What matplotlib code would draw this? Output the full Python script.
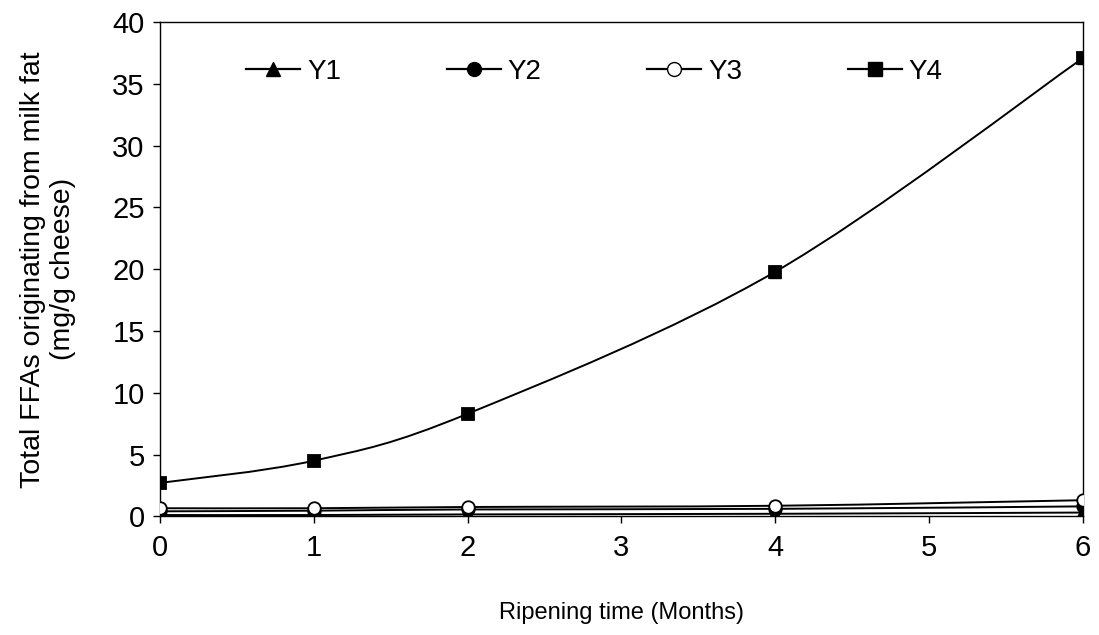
import numpy as np
import matplotlib.pyplot as plt
from matplotlib.path import Path
from matplotlib.patches import PathPatch

plt.rcParams['font.family'] = ['Liberation Sans', 'DejaVu Sans']

months = [0, 1, 2, 4, 6]
y1 = [0.1, 0.1, 0.15, 0.2, 0.3]
y2 = [0.4, 0.45, 0.55, 0.6, 0.8]
y3 = [0.65, 0.65, 0.75, 0.85, 1.3]
y4 = [2.7, 4.5, 8.3, 19.8, 37.1]
y4_err = [0.4, 0.4, 0.4, 0.5, 0.5]


def smooth_path(x, y):
    # excel-style smoothed line as bezier segments through the points
    pts = np.column_stack([x, y]).astype(float)
    verts = [pts[0]]
    codes = [Path.MOVETO]
    n = len(pts)
    for i in range(n - 1):
        p0 = pts[max(i - 1, 0)]
        p1 = pts[i]
        p2 = pts[i + 1]
        p3 = pts[min(i + 2, n - 1)]
        c1 = p1 + (p2 - p0) / 6
        c2 = p2 - (p3 - p1) / 6
        verts += [c1, c2, p2]
        codes += [Path.CURVE4] * 3
    return Path(verts, codes)


fig, ax = plt.subplots(figsize=(10.99, 6.35), dpi=100)
fig.subplots_adjust(left=0.1456, right=0.9854, top=0.965, bottom=0.187)

series = [
    ('Y1', y1, dict(marker='^', mfc='black')),
    ('Y2', y2, dict(marker='o', mfc='black')),
    ('Y3', y3, dict(marker='o', mfc='white')),
    ('Y4', y4, dict(marker='s', mfc='black')),
]
for name, vals, st in series:
    ax.add_patch(PathPatch(smooth_path(months, vals), fill=False,
                           lw=1.4, color='black', zorder=2))
    ax.plot(months, vals, ls='none', ms=9, mec='black', mew=1.3,
            zorder=3, **st)
    ax.plot([], [], color='black', lw=1.6, ms=10, mec='black',
            label=name, **st)

ax.errorbar(months, y4, yerr=y4_err, fmt='none', ecolor='black',
            capsize=4, lw=1, zorder=2)

ax.set_xlim(0, 6)
ax.set_ylim(0, 40)
ax.set_xticks(range(7))
ax.set_yticks(range(0, 41, 5))
ax.tick_params(labelsize=21, direction='out', length=5, width=1, pad=6)
ax.tick_params(axis='x', pad=8)
for s in ax.spines.values():
    s.set_linewidth(1)

ax.set_xlabel('Ripening time (Months)', fontsize=17)
ax.xaxis.set_label_coords(0.5, -0.173)
ax.set_ylabel('Total FFAs originating from milk fat\n(mg/g cheese)',
              fontsize=20.5)
ax.yaxis.set_label_coords(-0.091, 0.5)

ax.legend(loc='center left', bbox_to_anchor=(0.093, 0.9), ncol=4,
          frameon=False, fontsize=20, handlelength=1.95, handletextpad=0.25,
          columnspacing=3.8, borderpad=0, borderaxespad=0)

plt.savefig('out.png')
plt.close()
